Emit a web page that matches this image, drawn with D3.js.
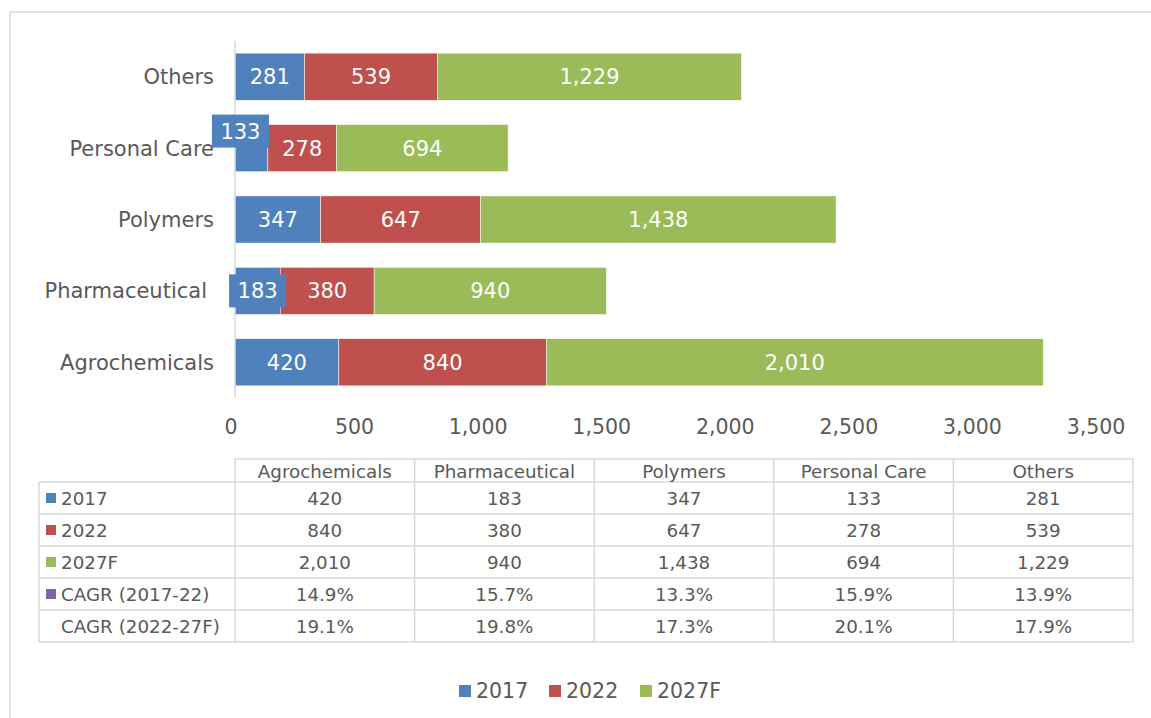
<!DOCTYPE html>
<html><head><meta charset="utf-8">
<script src="https://cdn.jsdelivr.net/npm/d3@7/dist/d3.min.js"></script>
<style>body{margin:0;background:#fff}svg{display:block}text{font-family:"DejaVu Sans",Verdana,sans-serif}</style>
</head><body><svg id="c" width="1151" height="718"></svg>
<script>
const categories = ["Agrochemicals","Pharmaceutical","Polymers","Personal Care","Others"];
const seriesNames = ["2017","2022","2027F"];
const v2017 = [420,183,347,133,281];
const v2022 = [840,380,647,278,539];
const v2027 = [2010,940,1438,694,1229];
const cagr1 = ["14.9%","15.7%","13.3%","15.9%","13.9%"];
const cagr2 = ["19.1%","19.8%","17.3%","20.1%","17.9%"];
const xTicks = [0,500,1000,1500,2000,2500,3000,3500];
const colors = ["#4f81bd","#c0504d","#9bbb59","#8064a2"];

const svg = d3.select("#c");
const fmt = d3.format(",");
const textCol = "#595959", gridCol = "#d9d9d9";

// outer frame
svg.append("rect").attr("x",10).attr("y",12).attr("width",1160).attr("height",720)
  .attr("fill","none").attr("stroke",gridCol).attr("stroke-width",1.5);

const x = d3.scaleLinear().domain([0,3500]).range([235,1100]);
const y = d3.scaleBand().domain(categories.slice().reverse()).range([41,398]).paddingInner(0.34).paddingOuter(0.17);

const series = [v2017,v2022,v2027];
const rows = categories.map((c,i)=>{const o={cat:c}; seriesNames.forEach((s,j)=>o[s]=series[j][i]); return o;});
const stack = d3.stack().keys(seriesNames)(rows);

stack.forEach((layer,j)=>{
  svg.append("g").selectAll("rect").data(layer).join("rect")
    .attr("x",d=>x(d[0])).attr("width",d=>x(d[1])-x(d[0]))
    .attr("y",d=>y(d.data.cat)).attr("height",y.bandwidth())
    .attr("fill",colors[j]).attr("stroke","#fff").attr("stroke-width",0.5);
});

// axis line
svg.append("line").attr("x1",235).attr("x2",235).attr("y1",41).attr("y2",398).attr("stroke",gridCol).attr("stroke-width",1.5);

// data labels
const smallOffsets = {"Personal Care":{dx:-11,dy:-17},"Pharmaceutical":{dx:0,dy:0}};
stack.forEach((layer,j)=>{
  layer.forEach(d=>{
    const val = d[1]-d[0];
    let cx = (x(d[0])+x(d[1]))/2, cy = y(d.data.cat)+y.bandwidth()/2;
    const label = fmt(val);
    const segW = x(d[1])-x(d[0]);
    if (j===0 && segW < 50) {
      const off = smallOffsets[d.data.cat] || {dx:0,dy:0};
      cx += off.dx; cy += off.dy;
      svg.append("rect").attr("x",cx-28.5).attr("y",cy-16.5).attr("width",57).attr("height",33).attr("fill",colors[0]);
    }
    svg.append("text").attr("x",cx).attr("y",cy).attr("dy","0.36em").attr("text-anchor","middle")
      .attr("fill","#fff").attr("font-size",21).text(label);
  });
});

// category labels
svg.append("g").selectAll("text").data(categories).join("text")
  .attr("x",d=>d==="Pharmaceutical"?207:214).attr("y",d=>y(d)+y.bandwidth()/2).attr("dy","0.36em")
  .attr("text-anchor","end").attr("fill",textCol).attr("font-size",21).text(d=>d);

// x tick labels
svg.append("g").selectAll("text").data(xTicks).join("text")
  .attr("x",d=>x(d)-4).attr("y",427).attr("dy","0.36em").attr("text-anchor","middle")
  .attr("fill",textCol).attr("font-size",20.5).text(d=>fmt(d));

// data table
const colX = d3.scaleBand().domain(categories).range([235,1133]);
const rowEdges = [459,482,514,546,578,610,642];
const rowLabels = ["2017","2022","2027F","CAGR (2017-22)","CAGR (2022-27F)"];
const rowVals = [v2017.map(fmt),v2022.map(fmt),v2027.map(fmt),cagr1,cagr2];
const tg = svg.append("g");
const line=(x1,y1,x2,y2)=>tg.append("line").attr("x1",x1).attr("y1",y1).attr("x2",x2).attr("y2",y2).attr("stroke",gridCol).attr("stroke-width",1.5);
line(235,459,1133,459);
for(let r=1;r<rowEdges.length;r++) line(39,rowEdges[r],1133,rowEdges[r]);
line(39,482,39,642);
categories.forEach(c=>line(colX(c),459,colX(c),642));
line(1133,459,1133,642);
const fs = 18.3;
categories.forEach(c=>{
  tg.append("text").attr("x",colX(c)+colX.bandwidth()/2).attr("y",(rowEdges[0]+rowEdges[1])/2+1).attr("dy","0.36em")
    .attr("text-anchor","middle").attr("fill",textCol).attr("font-size",fs).text(c);
});
rowLabels.forEach((lab,r)=>{
  const cy=(rowEdges[r+1]+rowEdges[r+2])/2;
  if (r<4) tg.append("rect").attr("x",46).attr("y",cy-5).attr("width",10).attr("height",10).attr("fill",colors[r]);
  tg.append("text").attr("x",61).attr("y",cy).attr("dy","0.36em").attr("fill",textCol).attr("font-size",fs).text(lab);
  rowVals[r].forEach((v,i)=>{
    tg.append("text").attr("x",colX(categories[i])+colX.bandwidth()/2).attr("y",cy).attr("dy","0.36em")
      .attr("text-anchor","middle").attr("fill",textCol).attr("font-size",fs).text(v);
  });
});

// legend
const lg = svg.append("g");
const legX=[459,549,640];
seriesNames.forEach((s,i)=>{
  lg.append("rect").attr("x",legX[i]).attr("y",685).attr("width",12).attr("height",12).attr("fill",colors[i]);
  lg.append("text").attr("x",legX[i]+17).attr("y",691).attr("dy","0.36em").attr("fill",textCol).attr("font-size",20.5).text(s);
});
</script></body></html>
